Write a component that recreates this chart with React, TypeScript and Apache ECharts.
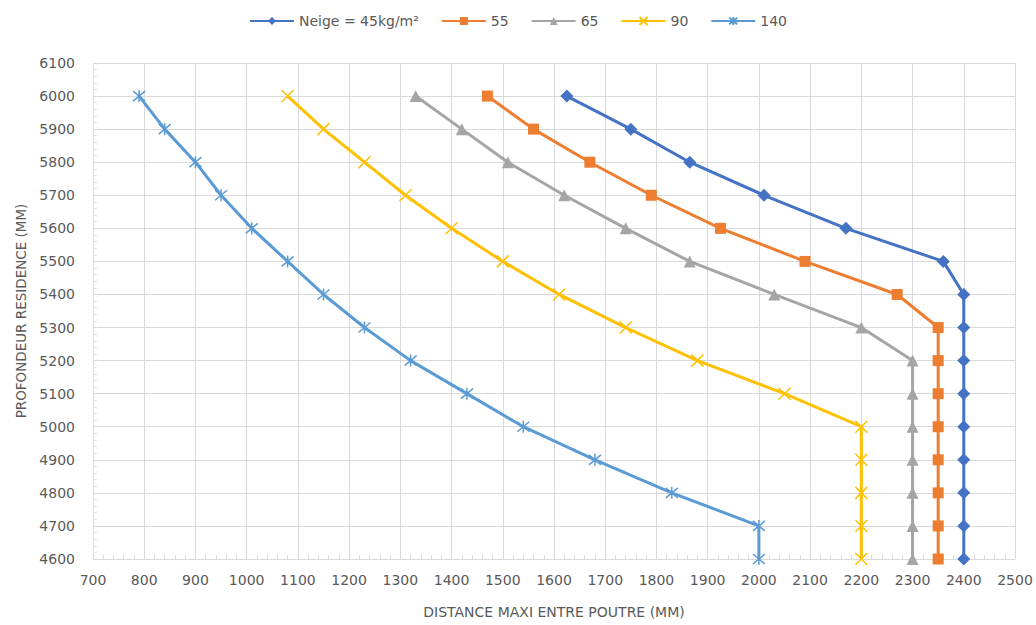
import React, { useEffect, useRef } from "react";
import * as echarts from "echarts";

const depths = [6000, 5900, 5800, 5700, 5600, 5500, 5400, 5300, 5200, 5100, 5000, 4900, 4800, 4700, 4600];
const neige45 = [1625, 1750, 1865, 2010, 2170, 2360, 2400, 2400, 2400, 2400, 2400, 2400, 2400, 2400, 2400];
const neige55 = [1470, 1560, 1670, 1790, 1925, 2090, 2270, 2350, 2350, 2350, 2350, 2350, 2350, 2350, 2350];
const neige65 = [1330, 1420, 1510, 1620, 1740, 1865, 2030, 2200, 2300, 2300, 2300, 2300, 2300, 2300, 2300];
const neige90 = [1080, 1150, 1230, 1310, 1400, 1500, 1610, 1740, 1880, 2050, 2200, 2200, 2200, 2200, 2200];
const neige140 = [790, 840, 900, 950, 1010, 1080, 1150, 1230, 1320, 1430, 1540, 1680, 1830, 2000, 2000];
const seriesNames = ["Neige = 45kg/m²", "55", "65", "90", "140"];
const colors = ["#4472C4", "#ED7D31", "#A5A5A5", "#FFC000", "#5B9BD5"];

const xName = "DISTANCE MAXI ENTRE POUTRE (MM)";
const yName = "PROFONDEUR RESIDENCE (MM)";

const FONT = "'DejaVu Sans', 'Open Sans', sans-serif";
const TEXT = "#595959";

export default function App() {
  const ref = useRef<HTMLDivElement>(null);
  useEffect(() => {
    if (!ref.current) return;
    const chart = echarts.init(ref.current, undefined, { renderer: "svg" });
    const all = [neige45, neige55, neige65, neige90, neige140];
    const symbols = [
      "diamond",
      "rect",
      "triangle",
      "path://M0,0L10,10M10,0L0,10",
      "path://M0,0L10,10M10,0L0,10M5,-1L5,11",
    ];
    const sizes = [13, 11, 12, 12, 12];
    const series = all.map((vals, i) => ({
      name: seriesNames[i],
      type: "line",
      data: vals.map((v, j) => [v, depths[j]]),
      symbol: symbols[i],
      symbolSize: sizes[i],
      smooth: false,
      lineStyle: { color: colors[i], width: 3 },
      itemStyle:
        i >= 3
          ? { color: colors[i], borderColor: colors[i], borderWidth: 1.5 }
          : { color: colors[i] },
      z: 10 - i,
    }));
    const fmt = (v: number) => String(v);
    chart.setOption({
      animation: false,
      backgroundColor: "#ffffff",
      textStyle: { fontFamily: FONT },
      legend: {
        top: 9,
        left: "center",
        itemWidth: 44,
        itemHeight: 10,
        itemGap: 22,
        textStyle: { color: TEXT, fontSize: 14, fontFamily: FONT },
        data: seriesNames,
      },
      grid: { left: 93, right: 21, top: 63, bottom: 66 },
      xAxis: {
        type: "value",
        min: 700,
        max: 2500,
        interval: 100,
        name: xName,
        nameLocation: "middle",
        nameGap: 46,
        nameTextStyle: { color: TEXT, fontSize: 14, fontFamily: FONT },
        axisLine: { show: true, lineStyle: { color: "#d9d9d9" } },
        axisTick: { show: false, inside: true },
        minorTick: { show: true, splitNumber: 5, length: 4, lineStyle: { color: "#d9d9d9" } },
        axisLabel: { color: TEXT, fontSize: 14, fontFamily: FONT, margin: 14, formatter: fmt },
        splitLine: { show: true, lineStyle: { color: "#d9d9d9" } },
      },
      yAxis: {
        type: "value",
        min: 4600,
        max: 6100,
        interval: 100,
        name: yName,
        nameLocation: "middle",
        nameGap: 65,
        nameTextStyle: { color: TEXT, fontSize: 13.5, fontFamily: FONT },
        axisLine: { show: true, lineStyle: { color: "#d9d9d9" } },
        axisTick: { show: false, inside: true },
        minorTick: { show: true, splitNumber: 5, length: 4, lineStyle: { color: "#e3e3e3" } },
        axisLabel: { color: TEXT, fontSize: 14, fontFamily: FONT, margin: 18, formatter: fmt },
        splitLine: { show: true, lineStyle: { color: "#d9d9d9" } },
      },
      series,
    });
    return () => chart.dispose();
  }, []);
  return (
    <div
      ref={ref}
      style={{ position: "fixed", left: 0, top: 0, width: 1036, height: 625 }}
    />
  );
}
